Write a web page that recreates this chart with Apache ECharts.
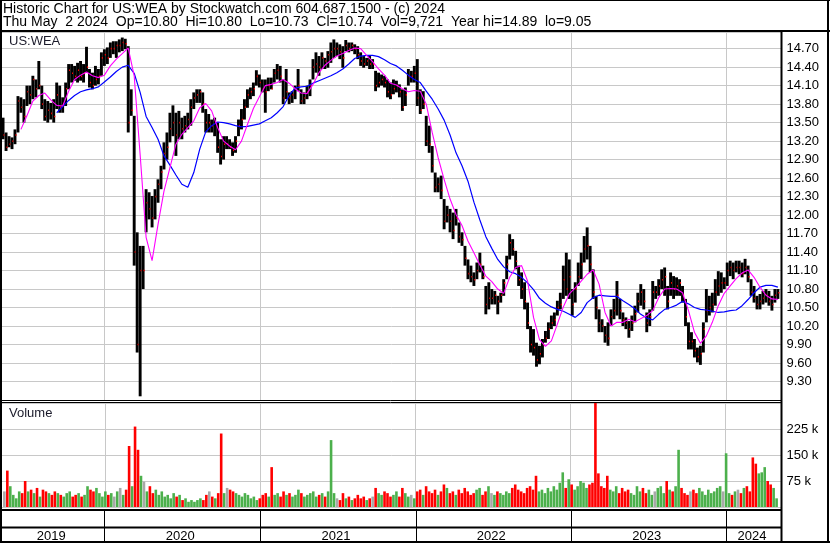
<!DOCTYPE html>
<html><head><meta charset="utf-8">
<script src="https://cdn.jsdelivr.net/npm/echarts@6/dist/echarts.min.js"></script>
<style>html,body{margin:0;padding:0;background:#fff}#c{width:830px;height:543px}</style>
</head><body><div id="c"></div>
<script>
// ---------- DATA (weekly, first week starting Monday 2019-05-06) ----------
const firstWeekMonday = [2019, 4, 6];
const high = [13.58,13.34,13.28,13.26,13.39,13.93,13.91,13.88,14.10,14.10,14.26,14.20,14.50,14.10,13.88,13.85,13.82,13.88,14.15,14.10,13.91,14.15,14.45,14.45,14.42,14.47,14.50,14.45,14.73,14.37,14.31,14.42,14.37,14.64,14.69,14.72,14.80,14.82,14.82,14.85,14.88,14.86,14.74,14.04,13.61,11.72,11.50,11.50,12.42,12.37,12.31,12.42,12.58,12.80,13.18,13.34,13.66,13.78,13.66,13.69,13.58,13.61,13.66,13.88,13.99,14.04,14.04,13.99,13.72,13.64,13.55,13.58,13.50,13.23,13.28,13.28,13.23,13.18,13.28,13.55,13.72,13.88,14.04,14.07,14.15,14.35,14.28,14.20,14.20,14.23,14.23,14.37,14.45,14.42,14.20,14.37,13.99,14.01,14.10,14.37,14.04,13.99,14.10,14.20,14.53,14.64,14.58,14.64,14.55,14.66,14.80,14.85,14.80,14.77,14.74,14.84,14.80,14.80,14.77,14.74,14.64,14.58,14.55,14.58,14.53,14.34,14.31,14.28,14.26,14.20,14.15,14.20,14.18,14.12,14.04,14.07,14.37,14.34,14.42,14.53,14.04,14.01,13.61,13.45,13.12,12.69,12.61,12.64,12.26,12.15,12.10,12.04,12.10,11.88,11.72,11.50,11.28,11.18,11.07,11.23,11.39,11.18,10.85,10.91,10.80,10.77,10.69,10.74,10.96,11.34,11.69,11.61,11.42,11.18,11.07,10.91,10.58,10.20,10.15,9.93,9.88,9.99,10.12,10.26,10.37,10.42,10.61,10.74,11.18,11.39,11.28,10.80,10.91,11.23,11.39,11.66,11.80,11.50,11.12,10.69,10.47,10.31,10.20,10.26,10.47,10.64,10.93,10.64,10.42,10.34,10.28,10.37,10.53,10.74,10.88,10.80,10.42,10.47,10.93,10.85,10.96,11.12,11.15,10.85,11.07,11.01,10.99,10.96,10.85,10.64,10.26,10.10,9.99,9.85,9.88,10.26,10.80,10.69,10.74,10.96,11.09,11.07,10.99,11.23,11.26,11.23,11.26,11.26,11.23,11.29,11.18,10.96,10.85,10.69,10.72,10.77,10.80,10.77,10.69,10.80,10.80];
const low = [13.23,13.04,13.10,13.07,13.15,13.34,13.66,13.50,13.77,13.80,13.88,13.91,14.04,13.72,13.53,13.50,13.55,13.50,13.72,13.66,13.66,13.77,14.04,14.15,14.18,14.15,14.18,14.15,14.31,14.07,14.04,14.10,14.12,14.26,14.42,14.45,14.55,14.61,14.55,14.64,14.66,14.69,13.34,13.61,11.18,9.77,9.06,10.80,11.72,11.93,11.80,11.93,12.20,12.42,12.74,12.90,13.18,13.28,12.96,13.23,13.23,13.34,13.39,13.45,13.72,13.82,13.82,13.66,13.34,13.34,13.34,13.28,13.01,12.82,12.90,13.07,13.07,12.96,13.01,13.28,13.39,13.55,13.74,13.88,13.93,14.10,14.07,13.99,13.66,14.01,14.04,14.15,14.20,14.15,13.80,13.88,13.80,13.82,13.88,14.01,13.80,13.80,13.88,13.93,14.20,14.31,14.26,14.37,14.37,14.39,14.47,14.55,14.58,14.53,14.39,14.66,14.64,14.66,14.61,14.53,14.42,14.39,14.42,14.37,14.37,14.01,14.07,14.10,14.07,13.91,13.88,13.96,13.99,13.91,13.69,13.77,14.10,14.15,14.15,13.77,13.64,13.72,13.12,13.01,12.69,12.37,12.37,12.26,11.77,11.88,11.72,11.61,11.83,11.55,11.50,11.18,10.96,10.91,10.85,10.96,11.07,10.96,10.39,10.47,10.55,10.55,10.39,10.58,10.69,10.96,11.28,11.34,11.12,10.85,10.64,10.47,10.15,9.77,9.72,9.54,9.58,9.69,9.93,9.99,10.15,10.20,10.37,10.47,10.64,10.69,10.64,10.37,10.58,10.85,10.96,11.23,11.28,11.07,10.64,10.31,10.10,10.10,9.93,9.88,10.20,10.31,10.37,10.31,10.20,10.15,10.01,10.12,10.26,10.42,10.53,10.47,10.10,10.20,10.45,10.64,10.69,10.80,10.69,10.47,10.69,10.64,10.69,10.69,10.58,10.20,9.82,9.82,9.69,9.61,9.57,9.77,10.26,10.37,10.42,10.53,10.69,10.74,10.80,10.85,11.01,10.96,11.07,11.04,10.99,11.04,10.91,10.69,10.58,10.47,10.47,10.55,10.58,10.53,10.45,10.58,10.64];
const close = [13.30,13.10,13.15,13.20,13.30,13.85,13.75,13.60,14.00,13.95,14.20,14.05,14.10,13.80,13.60,13.70,13.65,13.60,13.95,13.75,13.80,14.05,14.35,14.30,14.25,14.35,14.25,14.30,14.40,14.15,14.10,14.20,14.25,14.55,14.60,14.55,14.70,14.70,14.75,14.75,14.80,14.78,13.50,13.70,11.40,9.90,11.10,11.10,12.20,12.10,11.95,12.30,12.50,12.70,13.00,13.10,13.40,13.50,13.30,13.50,13.40,13.45,13.55,13.75,13.90,13.95,14.00,13.80,13.50,13.50,13.45,13.50,13.10,12.95,13.15,13.15,13.10,13.05,13.20,13.45,13.55,13.75,13.95,14.00,14.05,14.25,14.15,14.05,14.00,14.10,14.05,14.30,14.35,14.25,13.90,14.00,13.90,13.95,14.05,14.10,13.85,13.90,14.00,14.10,14.40,14.45,14.40,14.55,14.50,14.60,14.65,14.70,14.70,14.65,14.55,14.75,14.70,14.75,14.70,14.60,14.50,14.45,14.50,14.45,14.45,14.10,14.15,14.20,14.15,14.00,13.95,14.05,14.10,14.00,13.75,13.95,14.25,14.25,14.30,13.90,13.70,13.80,13.20,13.15,12.80,12.45,12.50,12.40,11.90,12.00,11.90,11.75,11.95,11.65,11.60,11.30,11.05,11.00,10.95,11.10,11.20,11.00,10.55,10.65,10.65,10.70,10.60,10.70,10.90,11.20,11.55,11.45,11.25,10.95,10.80,10.60,10.25,9.90,9.85,9.65,9.75,9.90,10.00,10.15,10.25,10.30,10.50,10.55,10.95,10.80,11.00,10.55,10.80,11.00,11.20,11.45,11.50,11.20,10.75,10.50,10.25,10.20,10.05,10.00,10.35,10.45,10.70,10.45,10.30,10.25,10.15,10.25,10.40,10.60,10.75,10.60,10.25,10.35,10.75,10.75,10.85,10.95,11.00,10.60,10.90,10.80,10.85,10.90,10.70,10.35,9.95,9.95,9.80,9.70,9.75,10.15,10.45,10.50,10.55,10.75,10.85,10.90,10.90,11.10,11.15,11.10,11.15,11.15,11.05,11.15,11.00,10.75,10.65,10.55,10.60,10.65,10.70,10.60,10.55,10.70,10.74];
// weekly volume, thousands of shares
const volumeK = [45,105,60,35,25,45,40,75,45,50,40,55,30,50,45,40,35,45,40,35,30,40,45,30,35,40,30,35,60,50,45,55,40,30,45,35,40,30,45,55,35,50,176,60,232,165,90,73,45,60,40,50,35,45,30,35,25,40,30,35,20,25,15,20,15,20,25,20,35,45,30,25,40,212,40,55,50,45,40,35,30,40,35,25,30,20,25,35,40,30,115,35,40,30,45,35,40,30,35,50,40,30,35,40,45,30,35,40,30,45,193,40,25,20,40,25,30,20,25,35,25,30,20,25,30,55,40,35,45,40,30,35,45,30,55,40,30,35,25,45,50,35,60,45,40,50,35,45,65,55,40,45,35,50,40,55,45,35,40,50,55,35,45,60,40,35,45,40,35,45,40,55,65,50,45,40,55,60,50,90,45,50,40,55,45,60,50,70,100,55,80,65,50,60,75,70,55,65,70,310,97,60,55,90,50,45,60,40,55,45,50,40,35,60,45,55,40,50,35,45,55,60,40,75,50,45,60,165,55,40,35,45,50,40,55,45,35,50,40,45,55,60,45,155,40,35,45,50,40,55,60,45,143,125,97,100,115,75,65,55,25];
// moving averages read every 2 weeks (week 0, 2, 4, ...)
const maShort = [null,null,null,13.39,13.61,13.85,13.94,13.98,13.87,13.78,13.77,14.01,14.20,14.27,14.32,14.26,14.23,14.27,14.42,14.53,14.62,14.71,14.26,12.98,11.64,11.26,11.85,12.39,12.77,13.15,13.31,13.42,13.53,13.74,13.81,13.69,13.42,13.20,13.12,13.06,13.20,13.47,13.73,13.92,14.10,14.12,14.15,14.20,14.14,14.05,13.98,13.97,14.12,14.31,14.43,14.51,14.58,14.62,14.67,14.71,14.70,14.59,14.49,14.37,14.27,14.14,14.11,14.05,14.00,14.02,14.01,13.80,13.34,12.93,12.58,12.26,12.01,11.83,11.58,11.39,11.19,11.01,10.92,10.80,10.73,10.99,11.15,11.18,10.93,10.34,9.98,9.87,9.96,10.23,10.51,10.72,10.82,10.93,11.04,11.11,10.88,10.42,10.20,10.26,10.26,10.31,10.27,10.32,10.37,10.45,10.66,10.80,10.81,10.80,10.74,10.45,10.10,9.92,10.04,10.26,10.53,10.73,10.85,10.97,11.06,11.11,10.99,10.83,10.70,10.64,10.63];
const maLong = [null,null,null,null,null,null,null,null,null,13.66,13.76,13.86,13.94,14.00,14.03,14.05,14.08,14.16,14.24,14.33,14.40,14.43,14.30,13.99,13.60,13.42,13.23,12.96,12.81,12.65,12.50,12.45,12.69,13.07,13.35,13.45,13.51,13.50,13.48,13.45,13.43,13.44,13.46,13.48,13.53,13.58,13.66,13.76,13.94,14.06,14.08,14.09,14.14,14.18,14.22,14.26,14.31,14.37,14.45,14.54,14.58,14.59,14.59,14.57,14.52,14.46,14.42,14.35,14.27,14.20,14.15,14.01,13.88,13.72,13.54,13.30,13.01,12.80,12.55,12.21,11.92,11.65,11.46,11.28,11.16,11.08,11.05,10.99,10.90,10.79,10.65,10.57,10.51,10.47,10.44,10.39,10.34,10.42,10.58,10.66,10.70,10.69,10.68,10.68,10.61,10.55,10.48,10.39,10.33,10.30,10.39,10.47,10.50,10.54,10.60,10.56,10.50,10.47,10.46,10.44,10.42,10.43,10.45,10.46,10.53,10.63,10.74,10.83,10.86,10.86,10.83];
const priceTickLabels = ['9.30','9.60','9.90','10.20','10.50','10.80','11.10','11.40','11.70','12.00','12.30','12.60','12.90','13.20','13.50','13.80','14.10','14.40','14.70'];
const volumeTickValues = [75000, 150000, 225000];
const volumeTickLabels = ['75 k', '150 k', '225 k'];
const yearLabels = ['2019', '2020', '2021', '2022', '2023', '2024'];
const yearBreakYears = [2020, 2021, 2022, 2023, 2024];
const titleLine1 = 'Historic Chart for US:WEA by Stockwatch.com 604.687.1500 - (c) 2024';
const titleLine2 = 'Thu May  2 2024  Op=10.80  Hi=10.80  Lo=10.73  Cl=10.74  Vol=9,721  Year hi=14.89  lo=9.05';

// ---------- BUILD ----------
const DAY = 86400000;
const base = Date.UTC(firstWeekMonday[0], firstWeekMonday[1], firstWeekMonday[2]);
const weekTime = i => base + (7 * i + 2) * DAY;
const axisStart = Date.UTC(2019, 4, 5, 12);
const axisEnd = Date.UTC(2024, 4, 9, 12);
const yearBreaks = yearBreakYears.map(y => Date.UTC(y, 0, 1));
const FONT = '"Liberation Sans", Arial, sans-serif';

const ohlc = high.map((h, i) => [weekTime(i), h, low[i], close[i]]);
const volData = volumeK.map((v, i) => {
  let c = '#a8a8a8';
  if (i > 0 && close[i] > close[i - 1]) c = '#4cb04c';
  else if (i > 0 && close[i] < close[i - 1]) c = '#ff0000';
  return { value: [weekTime(i), v * 1000], itemStyle: { color: c } };
});
const maS = [], maL = [];
maShort.forEach((v, k) => { if (v !== null) maS.push([weekTime(2 * k), v]); });
maLong.forEach((v, k) => { if (v !== null) maL.push([weekTime(2 * k), v]); });
const cellStarts = [axisStart].concat(yearBreaks);
const cellEnds = yearBreaks.concat([axisEnd]);
const yearCells = yearLabels.map((l, k) => [cellStarts[k], cellEnds[k], k]);

const gridLine = { lineStyle: { color: '#c8c8c8', width: 1 } };
const yearMark = {
  silent: true, symbol: ['none', 'none'], z: 1, animation: false,
  label: { show: false }, lineStyle: { color: '#c8c8c8', width: 1, type: 'solid' },
  emphasis: { disabled: true },
  data: yearBreaks.map(t => ({ xAxis: t }))
};
const xBase = { type: 'time', min: axisStart, max: axisEnd, axisLine: { show: false }, axisTick: { show: false }, axisLabel: { show: false }, splitLine: { show: false } };

const chart = echarts.init(document.getElementById('c'));
chart.setOption({
  animation: false,
  backgroundColor: '#fff',
  grid: [
    { left: 2, right: 48.5, top: 32, height: 368 },
    { left: 2, right: 48.5, top: 403, height: 104 },
    { left: 2, right: 48.5, top: 511, height: 30 }
  ],
  xAxis: [
    Object.assign({ gridIndex: 0 }, xBase),
    Object.assign({ gridIndex: 1 }, xBase),
    Object.assign({ gridIndex: 2 }, xBase)
  ],
  yAxis: [
    { gridIndex: 0, type: 'value', position: 'right', min: 9.0, max: 14.97, interval: 0.3,
      axisLine: { show: false }, axisTick: { show: false }, splitLine: gridLine,
      axisLabel: { margin: 5, color: '#000', fontSize: 13, fontFamily: FONT,
        showMaxLabel: false, showMinLabel: false,
        formatter: v => { const s = v.toFixed(2); return priceTickLabels.indexOf(s) >= 0 ? s : ''; } } },
    { gridIndex: 1, type: 'value', position: 'right', min: 0, max: 300000, interval: 75000,
      axisLine: { show: false }, axisTick: { show: false }, splitLine: gridLine,
      axisLabel: { margin: 5, color: '#000', fontSize: 13, fontFamily: FONT,
        formatter: v => { const k = volumeTickValues.indexOf(Math.round(v)); return k >= 0 ? volumeTickLabels[k] : ''; } } },
    { gridIndex: 2, type: 'value', min: 0, max: 1, show: false }
  ],
  series: [
    { type: 'custom', xAxisIndex: 0, yAxisIndex: 0, z: 2, silent: true,
      data: ohlc,
      renderItem: (params, api) => {
        const t = api.value(0);
        const pH = api.coord([t, api.value(1)]);
        const pL = api.coord([t, api.value(2)]);
        const pC = api.coord([t, api.value(3)]);
        return { type: 'group', children: [
          { type: 'rect', shape: { x: pH[0] - 1.45, y: pH[1], width: 2.9, height: Math.max(1, pL[1] - pH[1]) }, style: { fill: '#000' } },
          { type: 'rect', shape: { x: pC[0] + 0.4, y: pC[1] - 0.8, width: 1.2, height: 1.6 }, style: { fill: '#ff0000' } }
        ] };
      } },
    { type: 'line', xAxisIndex: 0, yAxisIndex: 0, z: 3, data: maL, showSymbol: false, silent: true,
      lineStyle: { color: '#0000ff', width: 1.2 }, markLine: yearMark },
    { type: 'line', xAxisIndex: 0, yAxisIndex: 0, z: 4, data: maS, showSymbol: false, silent: true,
      lineStyle: { color: '#ff00ff', width: 1.1 } },
    { type: 'bar', xAxisIndex: 1, yAxisIndex: 1, z: 2, data: volData, barWidth: 2.6, silent: true,
      markLine: yearMark },
    { type: 'custom', xAxisIndex: 2, yAxisIndex: 2, silent: true, data: yearCells,
      renderItem: (params, api) => {
        const a = api.coord([api.value(0), 0]);
        const b = api.coord([api.value(1), 0]);
        const top = api.coord([api.value(0), 1]);
        const k = api.value(2);
        const children = [{ type: 'text', style: { text: yearLabels[k], x: (a[0] + b[0]) / 2 - 2, y: a[1] - 5,
          align: 'center', verticalAlign: 'middle', font: '13px ' + FONT, fill: '#000' } }];
        if (k > 0) children.push({ type: 'line', shape: { x1: Math.round(a[0]) + 0.5, y1: top[1] - 1, x2: Math.round(a[0]) + 0.5, y2: a[1] },
          style: { stroke: '#000', lineWidth: 1 } });
        return { type: 'group', children };
      } }
  ],
  graphic: [
    { type: 'text', x: 3, y: 8.7, z: 100, style: { text: titleLine1, font: '14px ' + FONT, fill: '#000', verticalAlign: 'middle' } },
    { type: 'text', x: 3, y: 22.3, z: 100, style: { text: titleLine2, font: '14px ' + FONT, fill: '#000', verticalAlign: 'middle' } },
    { type: 'text', x: 9, y: 41.2, z: 100, style: { text: 'US:WEA', font: '13px ' + FONT, fill: '#1a1a2a', verticalAlign: 'middle' } },
    { type: 'text', x: 9, y: 413, z: 100, style: { text: 'Volume', font: '13px ' + FONT, fill: '#1a1a2a', verticalAlign: 'middle' } },
    { type: 'line', z: 100, shape: { x1: 0, y1: 0.5, x2: 830, y2: 0.5 }, style: { stroke: '#000', lineWidth: 1 } },
    { type: 'line', z: 100, shape: { x1: 1, y1: 0, x2: 1, y2: 543 }, style: { stroke: '#000', lineWidth: 2 } },
    { type: 'line', z: 100, shape: { x1: 828, y1: 0, x2: 828, y2: 543 }, style: { stroke: '#000', lineWidth: 2 } },
    { type: 'line', z: 100, shape: { x1: 0, y1: 542, x2: 830, y2: 542 }, style: { stroke: '#000', lineWidth: 2 } },
    { type: 'line', z: 100, shape: { x1: 0, y1: 31, x2: 830, y2: 31 }, style: { stroke: '#000', lineWidth: 2 } },
    { type: 'line', z: 100, shape: { x1: 781.5, y1: 31, x2: 781.5, y2: 543 }, style: { stroke: '#000', lineWidth: 2 } },
    { type: 'line', z: 100, shape: { x1: 0, y1: 400.5, x2: 781, y2: 400.5 }, style: { stroke: '#000', lineWidth: 1 } },
    { type: 'line', z: 100, shape: { x1: 0, y1: 402.5, x2: 781, y2: 402.5 }, style: { stroke: '#000', lineWidth: 1 } },
    { type: 'line', z: 100, shape: { x1: 0, y1: 510, x2: 781, y2: 510 }, style: { stroke: '#000', lineWidth: 2 } },
    { type: 'line', z: 100, shape: { x1: 0, y1: 527.5, x2: 781, y2: 527.5 }, style: { stroke: '#000', lineWidth: 2 } }
  ]
});
</script>
</body></html>
